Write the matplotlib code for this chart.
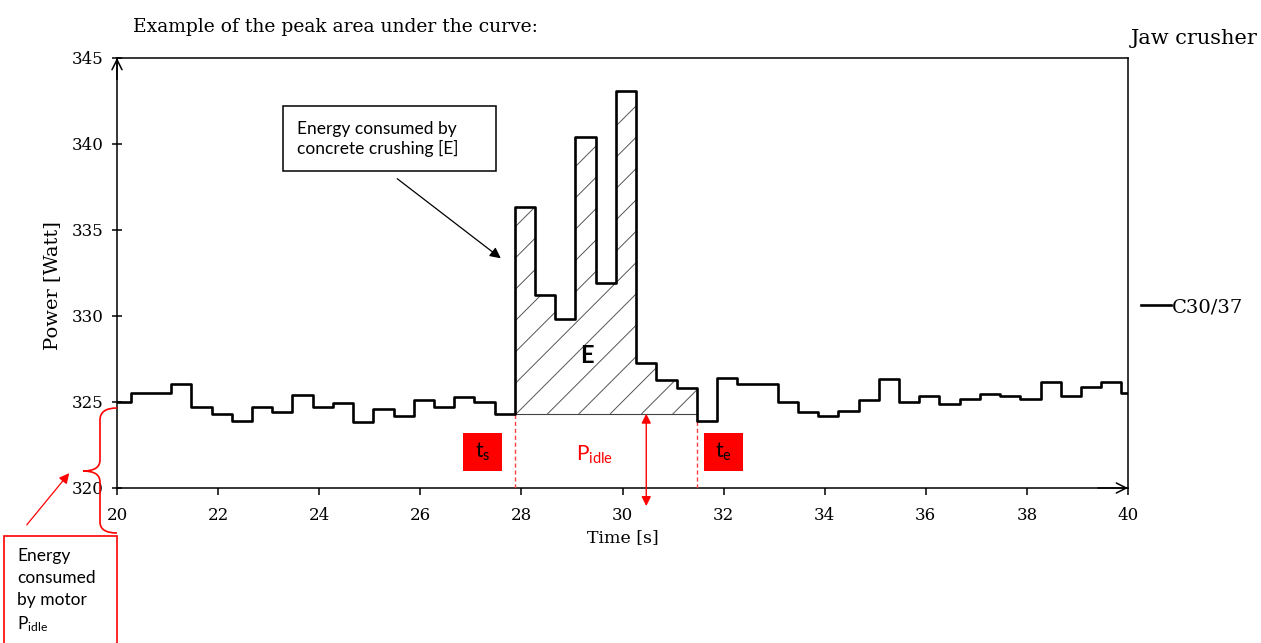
import numpy as np
import matplotlib.pyplot as plt
from matplotlib.path import Path
from matplotlib.patches import PathPatch, Rectangle, FancyArrowPatch

# Power trace of the jaw crusher (step start times in s, power in W)
t_start = [19.87, 20.27, 20.67, 21.07, 21.47, 21.87, 22.27, 22.67, 23.07, 23.47,
           23.87, 24.27, 24.67, 25.07, 25.47, 25.87, 26.27, 26.67, 27.07, 27.47,
           27.87, 28.27, 28.67, 29.07, 29.47, 29.87, 30.27, 30.67, 31.07, 31.47,
           31.87, 32.27, 32.67, 33.07, 33.47, 33.87, 34.27, 34.67, 35.07, 35.47,
           35.87, 36.27, 36.67, 37.07, 37.47, 37.87, 38.27, 38.67, 39.07, 39.47,
           39.87, 40.0]
power = [325.0, 325.5, 325.55, 326.05, 324.73, 324.3, 323.88, 324.69, 324.4, 325.43,
         324.73, 324.92, 323.82, 324.57, 324.2, 325.1, 324.69, 325.31, 325.0, 324.32,
         336.36, 331.22, 329.8, 340.43, 331.94, 343.1, 327.29, 326.28, 325.8, 323.91,
         326.38, 326.05, 326.05, 324.98, 324.4, 324.19, 324.5, 325.12, 326.32, 324.98,
         325.35, 324.86, 325.15, 325.47, 325.35, 325.17, 326.18, 325.35, 325.89, 326.14,
         325.5, 325.5]

t_s = 27.87      # start of crushing
t_e = 31.47      # end of crushing
p_idle = 324.32  # idle power level
t_arrow = 30.47

W, H = 1261, 643
serif = 'DejaVu Serif'
sans = 'Lato'
plt.rcParams['mathtext.fontset'] = 'dejavusans'

fig = plt.figure(figsize=(W / 100, H / 100), dpi=100)
ax = fig.add_axes([117 / W, 1 - 488 / H, (1128 - 117) / W, (488 - 58) / H])


def px(x, y):
    return (x / W, 1 - y / H)


t = np.array(t_start)
p = np.array(power)
ax.step(t, p, where='post', color='black', lw=1.9, label='C30/37', zorder=4)

# Crushing area E between the curve and the idle level
mask = (t >= t_s) & (t <= t_e)
area = ax.fill_between(t[mask], p[mask], p_idle, step='post',
                       facecolor='none', edgecolor='none')
ax.plot([t_s, t_e], [p_idle, p_idle], color='#444444', lw=0.8, zorder=3)
clip = area.get_paths()[0]
slope = (1011 / 20) / (430 / 25)
for k in range(-12, 12):
    x0 = t_s + 0.65 + 0.62 * k
    ln, = ax.plot([x0, x0 + 10], [p_idle, p_idle + 10 * slope],
                  color='#555555', lw=0.7, zorder=2)
    ln.set_clip_path(clip, ax.transData)

ax.text(29.3, 327.7, 'E', family=sans, fontsize=17, fontweight='bold',
        ha='center', va='center')

# Start / end markers
for x, y_top in [(t_s, p_idle), (t_e, power[t_start.index(t_e)])]:
    ax.plot([x, x], [320, y_top], color='#ff4040', lw=1.0, ls=(0, (3, 2)), zorder=3)

for x0, lbl in [(26.86, r'$\mathregular{t_s}$'), (31.63, r'$\mathregular{t_e}$')]:
    ax.add_patch(Rectangle((x0 - 0.02, 320.98), 0.78, 2.23, facecolor='red',
                           edgecolor='none', zorder=3))
    ax.text(x0 + 0.37, 322.1, lbl, family=sans, fontsize=15, ha='center',
            va='center', color='black', zorder=4)

ax.text(29.45, 321.95, r'$\mathregular{P_{idle}}$', family=sans, fontsize=15,
        color='red', ha='center', va='center')
ax.annotate('', xy=(t_arrow, p_idle), xytext=(t_arrow, 318.95),
            arrowprops=dict(arrowstyle='<|-|>', color='red', lw=1,
                            mutation_scale=14, shrinkA=0, shrinkB=0),
            annotation_clip=False)

# Axes styling
ax.set_xlim(20, 40)
ax.set_ylim(320, 345)
ax.set_xticks(np.arange(20, 41, 2))
ax.set_yticks(np.arange(320, 346, 5))
for s in ax.spines.values():
    s.set_linewidth(1.1)
ax.tick_params(axis='y', direction='inout', length=7, width=1.1, pad=6)
ax.tick_params(axis='x', direction='out', length=5, width=1.1, pad=9)
for lab in ax.get_xticklabels() + ax.get_yticklabels():
    lab.set_family(serif)
    lab.set_fontsize(12)
ax.annotate('', xy=(0, 1), xytext=(0, 0.95), xycoords='axes fraction',
            arrowprops=dict(arrowstyle='->', lw=1.1, mutation_scale=18,
                            shrinkA=0, shrinkB=0))
ax.annotate('', xy=(1, 0), xytext=(0.97, 0), xycoords='axes fraction',
            arrowprops=dict(arrowstyle='->', lw=1.1, mutation_scale=18,
                            shrinkA=0, shrinkB=0))

ax.set_xlabel('Time [s]', family=serif, fontsize=12.5, labelpad=3)
fig.text(*px(52, 286), 'Power [Watt]', family=serif, fontsize=14,
         rotation=90, ha='center', va='center')

fig.text(*px(133, 27), 'Example of the peak area under the curve:',
         family=serif, fontsize=13.5, ha='left', va='center')
fig.text(*px(1258, 38), 'Jaw crusher', family=serif, fontsize=15,
         ha='right', va='center')

ax.legend(loc='center left', bbox_to_anchor=px(1141, 307), bbox_transform=fig.transFigure,
          frameon=False, prop={'family': serif, 'size': 14},
          handlelength=1.55, handletextpad=0.05, borderpad=0, borderaxespad=0)

# Callout for the crushing energy
fig.add_artist(Rectangle(px(283, 171), 213 / W, 65 / H, transform=fig.transFigure,
                         facecolor='white', edgecolor='black', lw=1.1))
fig.text(*px(297, 139), 'Energy consumed by\nconcrete crushing [E]', family=sans,
         fontsize=12.5, ha='left', va='center', linespacing=1.25)
fig.add_artist(FancyArrowPatch(px(395, 177), px(503, 260), transform=fig.transFigure,
                               arrowstyle='-|>', mutation_scale=16, color='black', lw=0.9))

# Brace and callout for the idle energy
brace = [(117, 408), (100, 408), (100, 420), (100, 460), (100, 471), (83, 471),
         (100, 471), (100, 482), (100, 522), (100, 533), (117, 533)]
codes = [Path.MOVETO, Path.CURVE3, Path.CURVE3, Path.LINETO, Path.CURVE3, Path.CURVE3,
         Path.CURVE3, Path.CURVE3, Path.LINETO, Path.CURVE3, Path.CURVE3]
fig.add_artist(PathPatch(Path([px(*v) for v in brace], codes), transform=fig.transFigure,
                         facecolor='none', edgecolor='red', lw=1.2))
fig.add_artist(FancyArrowPatch(px(25, 527), px(71, 471), transform=fig.transFigure,
                               arrowstyle='-|>', mutation_scale=15, color='red', lw=0.9))
fig.add_artist(Rectangle(px(4, 660), 113 / W, 124 / H, transform=fig.transFigure,
                         facecolor='white', edgecolor='red', lw=1.2))
fig.text(*px(17, 591), 'Energy\nconsumed\nby motor\n' + r'$\mathregular{P_{idle}}$',
         family=sans, fontsize=12.5, ha='left', va='center', linespacing=1.45)

fig.savefig('out.png', dpi=100)
